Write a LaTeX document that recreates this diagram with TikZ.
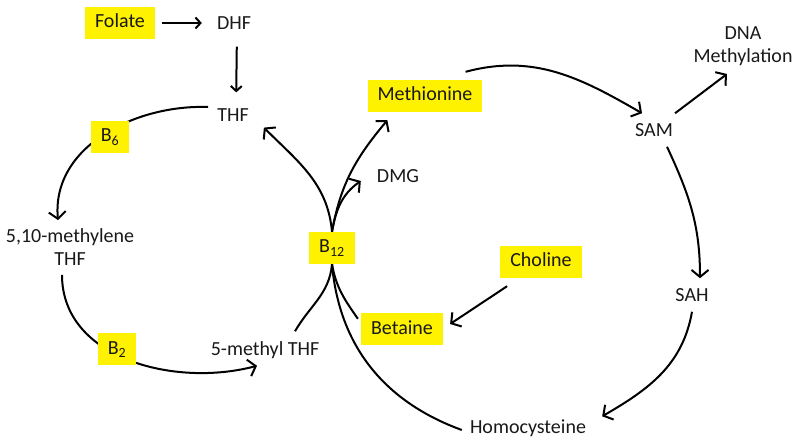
\documentclass[tikz,border=0pt]{standalone}
\usepackage{fontspec}
\setmainfont{Carlito}
\usetikzlibrary{arrows.meta,backgrounds}

\begin{document}
\begin{tikzpicture}[x=1pt,y=1pt,
	every node/.style={font=\fontsize{20}{23.5}\selectfont, text=black!90, inner sep=0pt},
	vit/.style={fill=yellow, inner xsep=10pt, inner ysep=7pt, text height=14pt, text depth=4pt},
	conv/.style={-{Straight Barb[length=7pt,width=17pt]}, line width=2pt},
	short/.style={-{Straight Barb[length=5pt,width=11pt]}, line width=2pt},
	path/.style={line width=2pt}]
			\useasboundingbox (0,0) rectangle (800,-446);
			% folate cycle
			\node[vit] (folate) at (120,-23) {Folate};
			\node (dhf) at (234,-23) {DHF};
			\node (thf) at (233,-115) {THF};
			\node[vit] (bsix) at (110,-137) {B\textsubscript{6}};
			\node[align=center] (mthylene) at (70,-247) {5,10-methylene\\THF};
			\node[vit] (btwo) at (117,-349) {B\textsubscript{2}};
			\node (mthf) at (265,-350) {5-methyl THF};
			\node[vit] (btwelve) at (332,-248) {B\textsubscript{12}};
			% methionine cycle
			\node[vit] (meth) at (425,-96) {Methionine};
			\node (dmg) at (398,-176) {DMG};
			\node (sam) at (654,-130) {SAM};
			\node[align=center] (dna) at (743,-46) {DNA\\Methylation};
			\node (sah) at (692,-295) {SAH};
			\node (hcy) at (528,-428) {Homocysteine};
			\node[vit] (choline) at (541,-262) {Choline};
			\node[vit] (betaine) at (402,-329) {Betaine};
			\begin{scope}[on background layer]
			\draw[short, shorten <=7pt, shorten >=15pt] (folate) -- (dhf);
			\draw[short, shorten <=17pt, shorten >=16pt] ([xshift=3pt]dhf.south) -- ([xshift=3pt]thf.north);
			\draw[conv] ([shift={(-9,8)}]thf.west) to[out=178,in=95] ([shift={(-12,8)}]mthylene.north);
			\draw[conv] ([shift={(-8,-9)}]mthylene.south) to[out=-90,in=195] ([shift={(-8,-7)}]mthf.south);
			\draw[path] ([shift={(30,10)}]mthf.north) to[out=60,in=-95] (btwelve.south);
			\draw[conv] (btwelve.north) to[out=95,in=-45] ([shift={(15,-6)}]thf.south east);
			\draw[path] ([shift={(-3,-6)}]betaine.north west) to[out=125,in=-80] (btwelve.south);
			\draw[conv] (btwelve.north) to[out=80,in=-145] ([shift={(-16,-5)}]dmg.west);
			\draw[path] ([shift={(-8,-2)}]hcy.west) to[out=160,in=-85] (btwelve.south);
			\draw[conv] (btwelve.north) to[out=80,in=-130] ([shift={(20,-8)}]meth.south west);
			\draw[conv] ([shift={(-17,8)}]meth.north east) to[out=15,in=150] ([shift={(-12,10)}]sam.north);
			\draw[conv] ([shift={(2,10)}]sam.north east) -- ([shift={(-16,-8)}]dna.south);
			\draw[conv] ([shift={(13,-10)}]sam.south) to[out=-65,in=90] ([shift={(8,10)}]sah.north);
			\draw[conv] ([yshift=-10pt]sah.south) to[out=-100,in=30] ([shift={(16,3)}]hcy.north east);
			\draw[conv] ([shift={(7,-8)}]choline.south west) -- ([shift={(7,5)}]betaine.east);
			\end{scope}
		\end{tikzpicture}
\end{document}
